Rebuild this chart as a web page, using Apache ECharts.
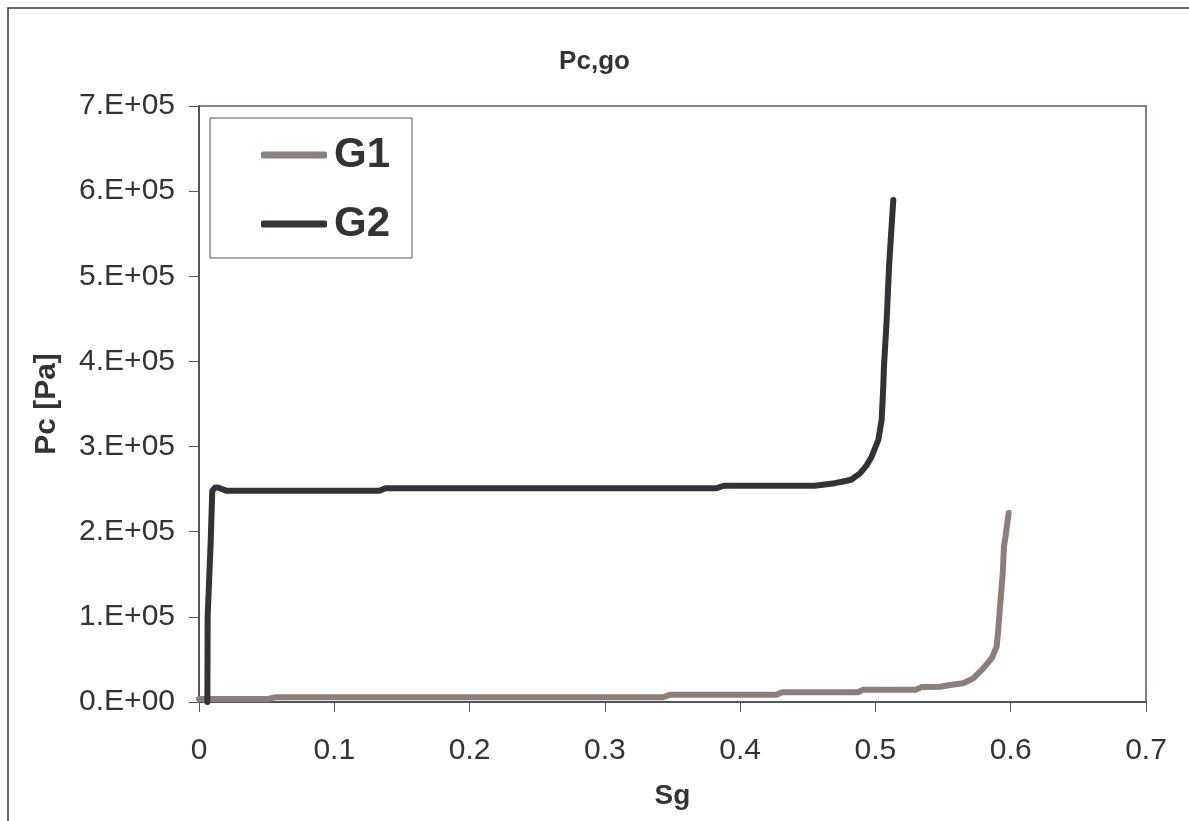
<!DOCTYPE html>
<html>
<head>
<meta charset="utf-8">
<title>Pc,go</title>
<script src="https://cdn.jsdelivr.net/npm/echarts@6/dist/echarts.min.js"></script>
<style>
  html, body { margin: 0; padding: 0; background: #fff; }
  #chart { width: 1189px; height: 821px; }
</style>
</head>
<body>
<div id="chart"></div>
<script>
  // tick labels as Excel prints them
  var xTickLabels = ['0', '0.1', '0.2', '0.3', '0.4', '0.5', '0.6', '0.7'];
  var yTickLabels = ['0.E+00', '1.E+05', '2.E+05', '3.E+05', '4.E+05', '5.E+05', '6.E+05', '7.E+05'];

  // G1 : [Sg, Pc]
  var g1Sg = [0, 0.051, 0.056, 0.343, 0.348, 0.427, 0.431, 0.487, 0.491, 0.530, 0.534, 0.548,
              0.5551, 0.5649, 0.5723, 0.5797, 0.5859, 0.5896, 0.5908, 0.5921, 0.5941, 0.5950, 0.5965, 0.5985];
  var g1Pc = [3500, 3500, 5500, 5500, 8500, 8500, 11500, 11500, 14500, 14500, 17500, 18000,
              20000, 22000, 27800, 39600, 51300, 65000, 84600, 112000, 151000, 182000, 198000, 222000];

  // G2 : [Sg, Pc]
  var g2Sg = [0.0062, 0.0064, 0.0086, 0.0098, 0.012, 0.014, 0.0205, 0.133, 0.138, 0.382, 0.388, 0.455,
              0.470, 0.4762, 0.482, 0.4886, 0.4935, 0.4972, 0.5021, 0.5046, 0.5058, 0.5063, 0.5083,
              0.5102, 0.5113, 0.5132];
  var g2Pc = [0, 100000, 187000, 248000, 252000, 252000, 248000, 248000, 251000, 251000, 254000, 254000,
              257000, 259000, 261000, 268600, 278000, 288100, 307700, 331200, 370300, 393800, 448700,
              515300, 542600, 589600];

  function pairs(xs, ys) {
    var out = [];
    for (var i = 0; i < xs.length; i++) out.push([xs[i], ys[i]]);
    return out;
  }

  var font = '"Liberation Sans", Arial, sans-serif';
  var chart = echarts.init(document.getElementById('chart'));
  chart.setOption({
    animation: false,
    backgroundColor: '#fff',
    textStyle: { fontFamily: font },
    graphic: [{
      type: 'rect',
      shape: { x: 8, y: 8, width: 1400, height: 1000 },
      style: { fill: 'none', stroke: '#333', lineWidth: 1.5 },
      silent: true
    }],
    title: {
      text: 'Pc,go',
      left: 'center',
      top: 44,
      textStyle: { fontFamily: font, fontSize: 26, fontWeight: 'bold', color: '#333' }
    },
    legend: {
      orient: 'vertical',
      left: 210,
      top: 118,
      padding: [16, 22, 13, 51],
      itemGap: 27,
      itemWidth: 66,
      itemHeight: 7,
      icon: 'roundRect',
      borderColor: '#555',
      borderWidth: 1,
      backgroundColor: '#fff',
      data: ['G1', 'G2'],
      textStyle: { fontFamily: font, fontSize: 42, fontWeight: 'bold', color: '#333238', lineHeight: 42, padding: [0, 0, 0, 2] }
    },
    grid: {
      left: 199,
      top: 106,
      right: 43,
      bottom: 119,
      show: true,
      borderColor: '#8c807c',
      borderWidth: 2
    },
    xAxis: {
      type: 'value',
      min: 0,
      max: 0.7,
      interval: 0.1,
      name: 'Sg',
      nameLocation: 'middle',
      nameGap: 80,
      nameTextStyle: { fontFamily: font, fontSize: 28, fontWeight: 'bold', color: '#333' },
      axisLine: { show: true, lineStyle: { color: '#555', width: 2 } },
      axisTick: { show: true, inside: false, length: 10, lineStyle: { color: '#555', width: 1 } },
      axisLabel: {
        margin: 34,
        fontSize: 30,
        color: '#333',
        fontFamily: font,
        formatter: function (v) { return xTickLabels[Math.round(v * 10)]; }
      },
      splitLine: { show: false }
    },
    yAxis: {
      type: 'value',
      min: 0,
      max: 700000,
      interval: 100000,
      name: 'Pc [Pa]',
      nameLocation: 'middle',
      nameGap: 137,
      nameTextStyle: { fontFamily: font, fontSize: 30, fontWeight: 'bold', color: '#333' },
      axisLine: { show: true, lineStyle: { color: '#555', width: 2 } },
      axisTick: { show: true, inside: false, length: 10, lineStyle: { color: '#555', width: 1 } },
      axisLabel: {
        margin: 24,
        fontSize: 30,
        color: '#333',
        fontFamily: font,
        formatter: function (v) { return yTickLabels[Math.round(v / 100000)]; }
      },
      splitLine: { show: false }
    },
    series: [{
      name: 'G1',
      type: 'line',
      data: pairs(g1Sg, g1Pc),
      showSymbol: false,
      symbol: 'none',
      color: '#8c7f7b',
      lineStyle: { color: '#8c7f7b', width: 6, cap: 'round', join: 'round' }
    }, {
      name: 'G2',
      type: 'line',
      data: pairs(g2Sg, g2Pc),
      showSymbol: false,
      symbol: 'none',
      color: '#333238',
      lineStyle: { color: '#333238', width: 6, cap: 'round', join: 'round' }
    }]
  });
</script>
</body>
</html>
